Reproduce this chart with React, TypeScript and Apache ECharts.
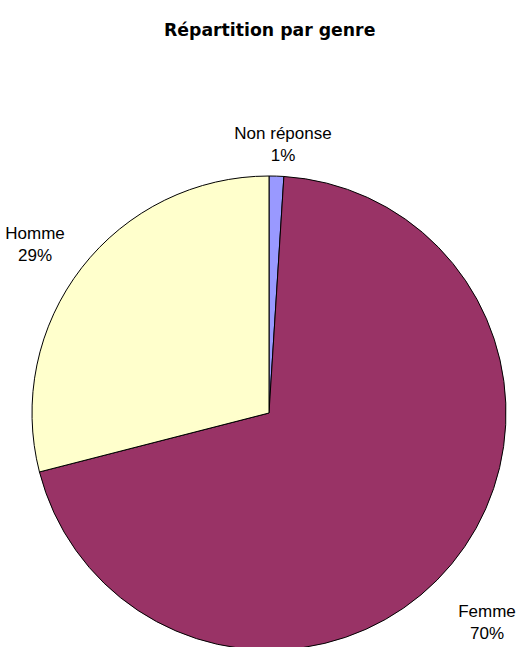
import React, { useEffect, useRef } from "react";
import * as echarts from "echarts";

const titleText = "Répartition par genre";
const categories = ["Non réponse", "Femme", "Homme"];
const values = [1, 70, 29];
const colors = ["#9999FF", "#993366", "#FFFFCC"];
const labelPos: [number, number][] = [
  [283, 144],
  [487, 622],
  [35, 244],
];

export default function App() {
  const ref = useRef<HTMLDivElement>(null);
  useEffect(() => {
    if (!ref.current) return;
    const chart = echarts.init(ref.current, undefined, { renderer: "svg" });
    chart.setOption({
      animation: false,
      backgroundColor: "#ffffff",
      title: {
        text: titleText,
        left: 159,
        top: 16,
        textStyle: {
          fontFamily: "DejaVu Sans, sans-serif",
          fontSize: 17.3,
          fontWeight: "bold",
          color: "#000000",
        },
      },
      series: [
        {
          type: "pie",
          center: [269, 413],
          radius: 237,
          startAngle: 90,
          clockwise: true,
          data: categories.map((c, i) => ({
            name: c,
            value: values[i],
            itemStyle: { color: colors[i] },
          })),
          itemStyle: { borderColor: "#000000", borderWidth: 1 },
          label: {
            show: true,
            position: "outside",
            formatter: "{b}\n{d}%",
            fontFamily: "Liberation Sans, Arial, sans-serif",
            fontSize: 17,
            lineHeight: 22,
            color: "#000000",
            align: "center",
            overflow: "none",
            edgeDistance: 0,
          },
          labelLine: { show: false },
          labelLayout: (params: any) => ({
            x: labelPos[params.dataIndex][0],
            y: labelPos[params.dataIndex][1],
            align: "center",
            verticalAlign: "middle",
            width: 200,
          }),
          emphasis: { disabled: true },
          silent: true,
        },
      ],
    });
    return () => chart.dispose();
  }, []);
  return (
    <div
      ref={ref}
      style={{ position: "fixed", left: 0, top: 0, width: 519, height: 647 }}
    />
  );
}
